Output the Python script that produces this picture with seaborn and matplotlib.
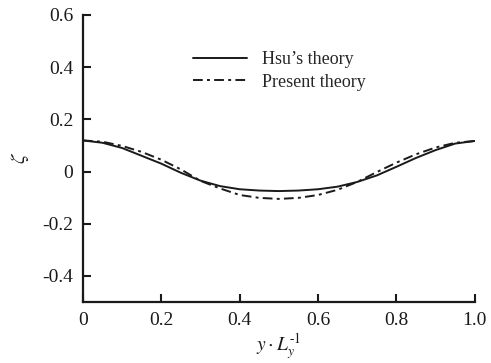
import numpy as np
import pandas as pd
import matplotlib
matplotlib.use("Agg")
import matplotlib.pyplot as plt
import seaborn as sns

# Normalised lateral position y / L_y
y_pos = [0.00, 0.05, 0.10, 0.15, 0.20, 0.25, 0.30, 0.35, 0.40, 0.45, 0.50,
         0.55, 0.60, 0.65, 0.70, 0.75, 0.80, 0.85, 0.90, 0.95, 1.00]

# Surface elevation zeta from the two theories
hsu_theory = [0.119, 0.110, 0.090, 0.060, 0.030, -0.005, -0.035, -0.056, -0.068, -0.073, -0.075,
              -0.073, -0.068, -0.058, -0.040, -0.015, 0.018, 0.052, 0.082, 0.107, 0.117]
present_theory = [0.119, 0.114, 0.098, 0.075, 0.045, 0.008, -0.036, -0.065, -0.090, -0.101, -0.105,
                  -0.101, -0.090, -0.070, -0.040, -0.002, 0.034, 0.066, 0.092, 0.110, 0.117]

series_names = ["Hsu\u2019s theory", "Present theory"]

df = pd.DataFrame({
    "y": y_pos * 2,
    "zeta": hsu_theory + present_theory,
    "theory": [series_names[0]] * len(y_pos) + [series_names[1]] * len(y_pos),
})

sns.set_theme(style="ticks")
plt.rcParams["font.family"] = ["Liberation Serif", "DejaVu Serif"]
plt.rcParams["mathtext.fontset"] = "stix"

fig = plt.figure(figsize=(4.91, 3.63), dpi=100)
ax = fig.add_axes([0.169, 0.168, 0.798, 0.791])

sns.lineplot(
    data=df, x="y", y="zeta", style="theory", hue="theory",
    palette={series_names[0]: "#1a1a1a", series_names[1]: "#1a1a1a"},
    dashes={series_names[0]: "", series_names[1]: (5, 2.2, 1.5, 2.2)},
    linewidth=1.4, ax=ax, legend=True,
)

ax.set_xlim(0, 1.0)
ax.set_ylim(-0.5, 0.6)
ax.set_xticks([0, 0.2, 0.4, 0.6, 0.8, 1.0])
ax.set_xticklabels(["0", "0.2", "0.4", "0.6", "0.8", "1.0"])
ax.set_yticks([-0.4, -0.2, 0, 0.2, 0.4, 0.6])
ax.set_yticklabels(["-0.4", "-0.2", "0", "0.2", "0.4", "0.6"])

for side in ["top", "right"]:
    ax.spines[side].set_visible(False)
for side in ["left", "bottom"]:
    ax.spines[side].set_linewidth(1.6)
    ax.spines[side].set_color("#1a1a1a")

ax.tick_params(direction="in", length=6, width=1.5, colors="#1a1a1a",
               labelsize=14, pad=7)

ax.set_xlabel("$y\\cdot L_y^{\\mathrm{\u20101}}$", fontsize=14, color="#1a1a1a", labelpad=2)
ax.set_ylabel(r"$\zeta$", fontsize=15, color="#1a1a1a", labelpad=8)

leg = ax.legend(loc="upper left", bbox_to_anchor=(0.24, 0.93), frameon=False,
                fontsize=13, handlelength=3.0, handletextpad=0.8,
                labelspacing=0.3)
for line in leg.get_lines():
    line.set_linewidth(1.4)

fig.savefig("out.png", dpi=100)
